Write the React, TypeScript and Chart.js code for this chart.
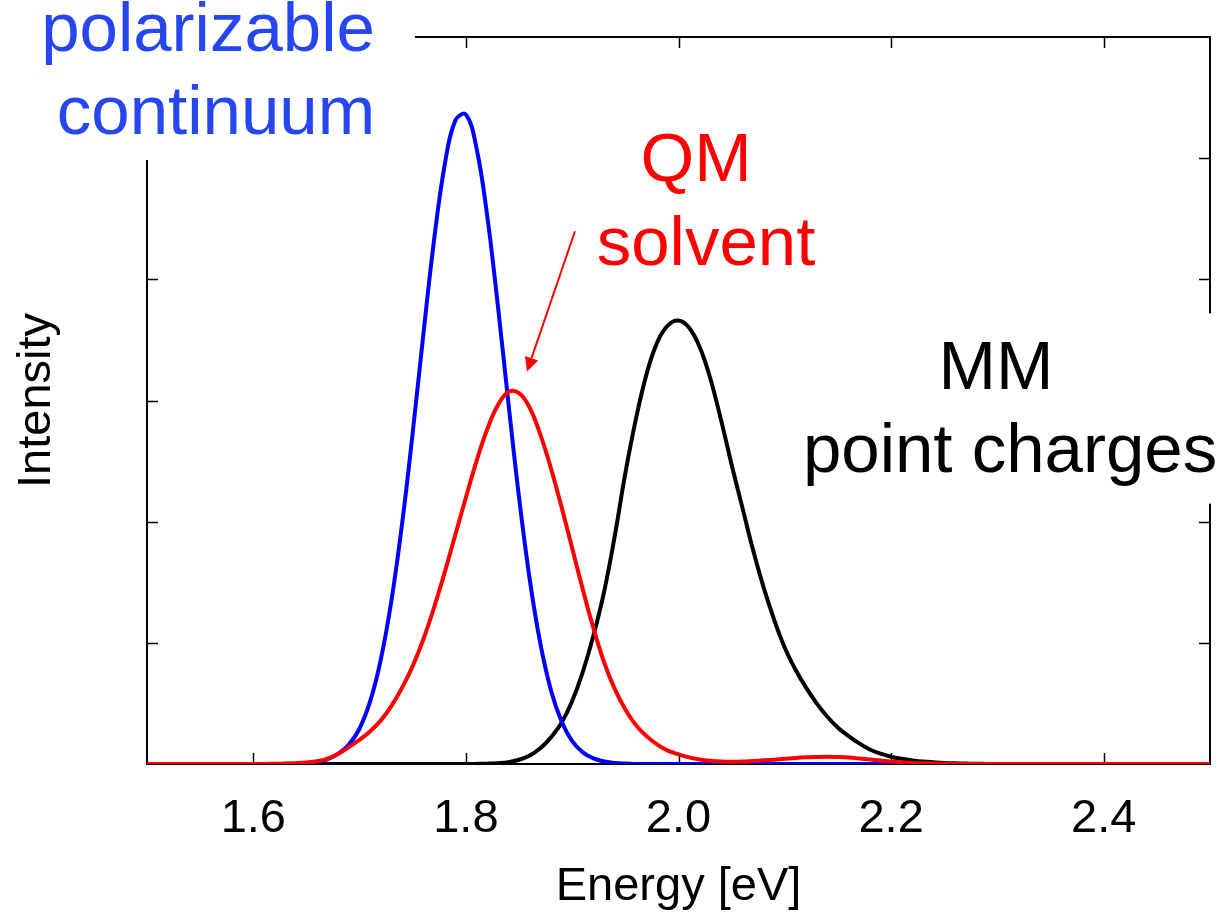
import React, { useEffect, useRef } from "react";
import { Chart, registerables } from "chart.js";

Chart.register(...registerables);

const energies = [
  1.5, 1.6, 1.61, 1.62, 1.63, 1.64, 1.65, 1.66, 1.67, 1.68, 1.69,
  1.7, 1.71, 1.72, 1.73, 1.74, 1.75, 1.76, 1.77, 1.78, 1.79,
  1.8, 1.81, 1.82, 1.83, 1.84, 1.85, 1.86, 1.87, 1.88, 1.89,
  1.9, 1.91, 1.92, 1.93, 1.94, 1.95, 1.96, 1.97, 1.98, 1.99,
  2.0, 2.01, 2.02, 2.03, 2.04, 2.05, 2.06, 2.07, 2.08, 2.09,
  2.1, 2.11, 2.12, 2.13, 2.14, 2.15, 2.16, 2.17, 2.18, 2.19,
  2.2, 2.21, 2.22, 2.23, 2.24, 2.25, 2.26, 2.27, 2.28, 2.29,
  2.3, 2.5,
];

const continuumValues = [
  0, 0, 0, 0, 0.001, 0.003, 0.007, 0.016, 0.04, 0.085, 0.16,
  0.293, 0.519, 0.864, 1.351, 1.984, 2.737, 3.548, 4.32, 4.941, 5.31,
  5.36, 5.082, 4.527, 3.789, 2.978, 2.199, 1.526, 0.995, 0.609, 0.35,
  0.189, 0.096, 0.046, 0.02, 0.009, 0.004, 0.001, 0, 0, 0,
  0, 0, 0, 0, 0, 0, 0, 0, 0, 0,
  0, 0, 0, 0, 0, 0, 0, 0, 0, 0,
  0, 0, 0, 0, 0, 0, 0, 0, 0, 0,
  0, 0,
];

const qmSolventValues = [
  0, 0.001, 0.001, 0.002, 0.004, 0.007, 0.012, 0.022, 0.045, 0.085, 0.14,
  0.2, 0.27, 0.36, 0.48, 0.63, 0.81, 1.03, 1.29, 1.58, 1.89,
  2.2, 2.5, 2.76, 2.96, 3.07, 3.06, 2.94, 2.72, 2.44, 2.12,
  1.78, 1.44, 1.12, 0.84, 0.62, 0.45, 0.32, 0.23, 0.16, 0.11,
  0.08, 0.055, 0.037, 0.026, 0.02, 0.018, 0.02, 0.025, 0.03, 0.036,
  0.043, 0.05, 0.055, 0.058, 0.06, 0.058, 0.054, 0.046, 0.037, 0.028,
  0.02, 0.014, 0.009, 0.006, 0.004, 0.002, 0.001, 0, 0, 0,
  0, 0,
];

const mmChargesValues = [
  0, 0, 0, 0, 0, 0, 0, 0, 0, 0, 0,
  0, 0, 0, 0, 0, 0, 0, 0, 0, 0,
  0, 0.001, 0.003, 0.007, 0.015, 0.035, 0.07, 0.13, 0.22, 0.34,
  0.52, 0.76, 1.06, 1.42, 1.88, 2.4, 2.85, 3.22, 3.48, 3.62,
  3.66, 3.6, 3.44, 3.18, 2.84, 2.47, 2.12, 1.77, 1.46, 1.19,
  0.96, 0.78, 0.63, 0.5, 0.39, 0.3, 0.23, 0.17, 0.12, 0.085,
  0.06, 0.043, 0.03, 0.02, 0.014, 0.009, 0.006, 0.004, 0.002, 0.001,
  0, 0,
];

const xTickValues = [1.6, 1.8, 2.0, 2.2, 2.4];
const yTickValues = [1, 2, 3, 4, 5];

const FONT = "'Liberation Sans', Arial, Helvetica, sans-serif";

const toPoints = (vals: number[]) => energies.map((e, i) => ({ x: e, y: vals[i] }));

const framePlugin = {
  id: "framePlugin",
  beforeDatasetsDraw(chart: any) {
    const { ctx, chartArea, scales } = chart;
    const { left, right, top, bottom } = chartArea;
    const x = scales.x;
    const y = scales.y;
    ctx.save();
    ctx.strokeStyle = "#000";
    ctx.lineWidth = 2;
    ctx.strokeRect(left, top, right - left, bottom - top);
    ctx.lineWidth = 1.5;
    const tl = 11;
    ctx.beginPath();
    xTickValues.forEach((v) => {
      const px = Math.round(x.getPixelForValue(v)) + 0.5;
      ctx.moveTo(px, bottom);
      ctx.lineTo(px, bottom - tl);
      ctx.moveTo(px, top);
      ctx.lineTo(px, top + tl);
    });
    yTickValues.forEach((v) => {
      const py = Math.round(y.getPixelForValue(v)) + 0.5;
      ctx.moveTo(left, py);
      ctx.lineTo(left + tl, py);
      ctx.moveTo(right, py);
      ctx.lineTo(right - tl, py);
    });
    ctx.stroke();
    ctx.restore();
  },
  afterDraw(chart: any) {
    const { ctx, scales } = chart;
    const x = scales.x;
    const y = scales.y;
    const px = (v: number) => x.getPixelForValue(v);
    const py = (v: number) => y.getPixelForValue(v);
    ctx.save();
    // white backgrounds of the labels that hide parts of the frame
    ctx.fillStyle = "#fff";
    const boxes = [
      [1.3617, 1.7521, 6.32, 4.985],
      [2.105, 2.52, 3.719, 2.149],
    ];
    boxes.forEach(([x0, x1, y0, y1]) => {
      ctx.fillRect(px(x0), py(y0), px(x1) - px(x0), py(y1) - py(y0));
    });
    const labels = [
      { text: "polarizable", x: 1.5574, y: 5.884, color: "#2546f0" },
      { text: "continuum", x: 1.5649, y: 5.198, color: "#2546f0" },
      { text: "QM", x: 2.0165, y: 4.81, color: "#ff0000" },
      { text: "solvent", x: 2.0259, y: 4.116, color: "#ff0000" },
      { text: "MM", x: 2.2987, y: 3.091, color: "#000000" },
      { text: "point charges", x: 2.3119, y: 2.413, color: "#000000" },
    ];
    ctx.font = `69px ${FONT}`;
    ctx.textAlign = "center";
    ctx.textBaseline = "alphabetic";
    labels.forEach((l) => {
      ctx.fillStyle = l.color;
      ctx.fillText(l.text, px(l.x), py(l.y));
    });
    // arrow
    const sx = px(1.9026), sy = py(4.397);
    const tx = px(1.8575), ty = py(3.24);
    const ang = Math.atan2(ty - sy, tx - sx);
    const hl = 14, hw = 7;
    const bx = tx - hl * Math.cos(ang), by = ty - hl * Math.sin(ang);
    ctx.strokeStyle = "#ff0000";
    ctx.lineWidth = 2;
    ctx.beginPath();
    ctx.moveTo(sx, sy);
    ctx.lineTo(bx, by);
    ctx.stroke();
    ctx.fillStyle = "#ff0000";
    ctx.beginPath();
    ctx.moveTo(tx, ty);
    ctx.lineTo(bx + hw * Math.sin(ang), by - hw * Math.cos(ang));
    ctx.lineTo(bx - hw * Math.sin(ang), by + hw * Math.cos(ang));
    ctx.closePath();
    ctx.fill();
    ctx.restore();
  },
};

export default function App() {
  const canvasRef = useRef<HTMLCanvasElement | null>(null);

  useEffect(() => {
    const canvas = canvasRef.current;
    if (!canvas) return;
    const lineStyle = {
      borderWidth: 4,
      pointRadius: 0,
      tension: 0.4,
      fill: false,
    };
    const chart = new Chart(canvas, {
      type: "line",
      data: {
        datasets: [
          { label: "QM solvent", data: toPoints(qmSolventValues), borderColor: "#ff0000", ...lineStyle },
          { label: "polarizable continuum", data: toPoints(continuumValues), borderColor: "#0000ff", ...lineStyle },
          { label: "MM point charges", data: toPoints(mmChargesValues), borderColor: "#000000", ...lineStyle },
        ],
      },
      options: {
        animation: false,
        responsive: false,
        maintainAspectRatio: false,
        layout: { padding: { left: 0, top: 37, right: 19, bottom: 0 } },
        plugins: {
          legend: { display: false },
          tooltip: { enabled: false },
        },
        scales: {
          x: {
            type: "linear",
            min: 1.5,
            max: 2.5,
            afterFit: (s: any) => {
              s.height = 158;
            },
            afterBuildTicks: (s: any) => {
              s.ticks = xTickValues.map((v) => ({ value: v }));
            },
            ticks: {
              callback: (v: any) => Number(v).toFixed(1),
              font: { family: FONT, size: 47 },
              color: "#000",
              padding: 27,
              autoSkip: false,
              maxRotation: 0,
            },
            grid: { display: false, drawTicks: false },
            border: { display: false },
            title: {
              display: true,
              text: "Energy [eV]",
              font: { family: FONT, size: 47 },
              color: "#000",
              padding: { top: 0, bottom: 7 },
            },
          },
          y: {
            type: "linear",
            min: 0,
            max: 6,
            afterFit: (s: any) => {
              s.width = 147;
            },
            ticks: { display: false },
            grid: { display: false, drawTicks: false },
            border: { display: false },
            title: {
              display: true,
              text: "Intensity",
              font: { family: FONT, size: 47 },
              color: "#000",
              padding: { top: 9, bottom: 0 },
            },
          },
        },
      },
      plugins: [framePlugin],
    } as any);
    return () => chart.destroy();
  }, []);

  return (
    <div style={{ position: "absolute", left: 0, top: 0, width: 1229, height: 922, background: "#fff" }}>
      <canvas ref={canvasRef} width={1229} height={922} style={{ width: 1229, height: 922, display: "block" }} />
    </div>
  );
}
